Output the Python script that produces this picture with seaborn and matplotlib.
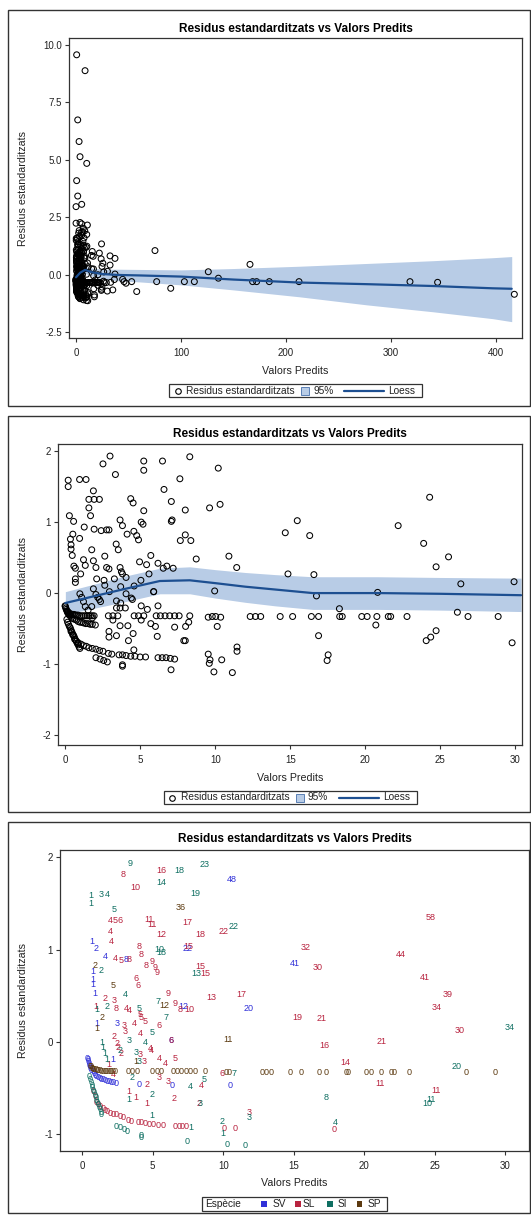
import numpy as np
import pandas as pd
import seaborn as sns
import matplotlib.pyplot as plt
from matplotlib.lines import Line2D
from matplotlib.patches import Rectangle
from matplotlib.transforms import offset_copy

# --- values (predicted value, standardised residual, label) ---
sv_lab = ['1', '2', '4', '8', '1', '1', '1', '1', '12', '1', '3', '6', '1', '0', '0', '0', '22', '48', '41', '20',
          '0', '0', '0', '0', '0', '0', '0', '0', '0', '0', '0', '0', '0', '0', '0', '0', '0', '0', '0', '0', '0', '0']
sv_x = [0.27, 0.55, 1.26, 2.75, 0.34, 0.38, 0.38, 0.46, 6.77, 0.67, 2.09, 5.89, 1.76, 3.65, 6.01, 10.13, 7.07, 10.2, 14.67, 11.43,
        -0.02, 0.0, 0.03, 0.06, 0.10, 0.14, 0.19, 0.26, 0.34, 0.42, 0.50, 0.62, 0.74, 0.85, 0.97, 1.09, 1.21, 1.36, 1.52, 1.66, 1.80, 2.0]
sv_y = [1.09, 1.01, 0.93, 0.89, 0.76, 0.68, 0.62, 0.53, 0.38, 0.20, 0.20, 0.02, -0.19, -0.46, -0.47, -0.47, 1.01, 1.76, 0.85, 0.36,
        -0.18, -0.19, -0.21, -0.23, -0.25, -0.27, -0.29, -0.31, -0.32, -0.34, -0.36, -0.37, -0.38, -0.40, -0.41, -0.41, -0.42, -0.43, -0.43, -0.44, -0.44, -0.45]

sl_lab = ['8', '16', '10', '4', '5', '6', '11', '11', '17', '4',
          '12', '18', '22', '4', '8', '15', '8', '4', '5', '8',
          '8', '9', '9', '9', '15', '15', '6', '6', '9', '13',
          '17', '2', '3', '9', '8', '10', '1', '8', '4', '4',
          '5', '5', '3', '3', '4', '5', '6', '4', '6', '2',
          '2', '2', '2', '1', '3', '4', '4', '3', '4', '4',
          '5', '3', '4', '2', '3', '4', '6', '1', '1', '1',
          '2', '2', '0', '0', '3', '0', '32', '30', '19', '21',
          '16', '14', '58', '44', '41', '39', '34', '30', '21', '11',
          '11',
          '0', '0', '0', '0', '0', '0', '0', '0', '0', '0', '0', '0', '0',
          '0', '0', '0', '0', '0', '0', '0', '0', '0', '0', '0', '0', '0']
sl_x = [2.51, 5.23, 3.34, 1.57, 1.92, 2.27, 4.36, 4.52, 7.07, 1.57,
        5.23, 8.0, 9.62, 1.68, 3.65, 7.12, 3.81, 1.92, 2.39, 2.91,
        4.12, 4.57, 4.76, 4.88, 8.0, 8.37, 3.39, 3.53, 5.70, 8.73,
        10.91, 1.21, 1.87, 6.18, 6.53, 7.19, 0.57, 2.04, 2.75, 2.91,
        3.74, 3.81, 2.58, 2.63, 3.27, 4.05, 5.04, 3.69, 5.89, 1.87,
        2.04, 2.16, 2.35, 1.52, 3.69, 4.40, 4.47, 4.0, 5.06, 5.47,
        6.18, 5.06, 1.80, 4.17, 5.70, 8.02, 9.53, 2.91, 3.41, 4.21,
        6.13, 7.9, 9.65, 10.43, 11.45, 17.46, 15.47, 16.30, 14.85, 16.58,
        16.75, 18.28, 24.30, 22.2, 23.9, 25.56, 24.73, 26.38, 20.83, 20.71,
        24.73,
        0.38, 0.50, 0.62, 0.74, 0.86, 1.05, 1.21, 1.40, 1.57, 1.80, 2.04, 2.28, 2.51,
        2.87, 3.10, 3.58, 3.81, 4.05, 4.36, 4.64, 4.99, 5.35, 6.18, 6.46, 6.72, 7.0]
sl_y = [1.82, 1.86, 1.67, 1.32, 1.32, 1.32, 1.33, 1.27, 1.29, 1.20,
        1.16, 1.17, 1.20, 1.09, 1.03, 1.03, 0.95, 0.90, 0.88, 0.89,
        0.83, 0.87, 0.81, 0.75, 0.82, 0.74, 0.69, 0.61, 0.53, 0.48,
        0.52, 0.47, 0.455, 0.42, 0.35, 0.35, 0.38, 0.36, 0.36, 0.34,
        0.30, 0.27, 0.18, 0.11, 0.20, 0.22, 0.18, 0.09, 0.02, 0.06,
        -0.02, -0.06, -0.12, -0.24, -0.14, -0.07, -0.09, -0.21, -0.18, -0.23,
        -0.18, -0.38, -0.35, -0.46, -0.43, -0.47, -0.34, -0.54, -0.60, -0.67,
        -0.61, -0.67, -0.94, -0.94, -0.76, -0.95, 1.02, 0.81, 0.27, 0.26,
        -0.04, -0.22, 1.35, 0.95, 0.70, 0.51, 0.37, 0.13, 0.01, -0.45,
        -0.53,
        -0.54, -0.59, -0.65, -0.68, -0.70, -0.72, -0.74, -0.75, -0.77, -0.78, -0.79, -0.81, -0.82,
        -0.85, -0.86, -0.87, -0.87, -0.88, -0.89, -0.89, -0.90, -0.90, -0.91, -0.91, -0.91, -0.92]

si_lab = ['9', '18', '23', '14', '1', '1', '3', '4', '19', '5',
          '10', '18', '2', '13', '4', '7', '1', '2', '5', '7',
          '5', '3', '2', '1', '1', '1', '1', '4', '3', '3',
          '2', '4', '5', '7', '1', '2', '3', '1', '1', '2',
          '1', '0', '0', '0', '0', '0', '0', '0', '0', '0',
          '3', '8', '4', '22', '34', '20', '11', '10',
          '0', '0', '0', '0', '0', '0', '0', '0', '0', '0', '0', '0', '0', '0', '0', '0']
si_x = [2.98, 6.48, 8.30, 5.23, 0.19, 0.19, 0.95, 1.38, 7.64, 1.87,
        5.06, 5.18, 0.95, 7.67, 2.63, 4.95, 0.67, 1.33, 3.65, 5.58,
        4.59, 2.94, 2.27, 0.97, 1.09, 1.21, 1.33, 4.05, 3.41, 3.65,
        3.17, 7.29, 8.23, 10.36, 2.91, 4.52, 8.0, 4.57, 7.29, 9.53,
        9.6, 7.05, 9.91, 3.81, 3.81, 2.04, 2.32, 2.56, 2.8, 11.14,
        11.45, 16.89, 17.53, 10.32, 29.93, 26.15, 24.37, 24.07,
        0.10, 0.15, 0.21, 0.27, 0.33, 0.38, 0.44, 0.50, 0.56, 0.62, 0.68, 0.74, 0.80, 0.86, 0.92, 0.97]
si_y = [1.93, 1.86, 1.92, 1.73, 1.59, 1.50, 1.60, 1.60, 1.61, 1.44,
        1.00, 0.97, 0.77, 0.74, 0.52, 0.44, 0.35, 0.39, 0.36, 0.27,
        0.10, 0.02, -0.09, -0.01, -0.06, -0.12, -0.19, -0.01, -0.11, -0.21,
        -0.38, -0.48, -0.41, -0.34, -0.62, -0.57, -0.67, -0.80, -0.93, -0.86,
        -0.99, -1.08, -1.11, -1.01, -1.03, -0.91, -0.93, -0.95, -0.97, -1.12,
        -0.82, -0.60, -0.87, 1.25, 0.16, -0.27, -0.62, -0.67,
        -0.37, -0.41, -0.44, -0.47, -0.49, -0.52, -0.55, -0.58, -0.60, -0.63, -0.66, -0.68, -0.71, -0.73, -0.76, -0.78]

sp_lab = ['36', '2', '5', '12', '2', '1', '11', '1',
          '0', '0', '0', '0', '0', '0', '0', '0', '0', '0', '0', '0', '0', '0', '0', '0', '0', '0', '0',
          '0', '0', '0', '0', '0', '0', '0', '0', '0', '0', '0', '0', '0',
          '0', '0', '0', '0', '0', '0', '0', '0', '0', '0', '0', '0', '0', '0', '0', '0', '0', '0', '0']
sp_x = [6.58, 0.50, 1.76, 5.42, 1.02, 0.67, 9.96, 3.41,
        0.15, 0.20, 0.27, 0.33, 0.38, 0.47, 0.57, 0.66, 0.74, 0.85, 0.97, 1.09, 1.21, 1.33, 1.45, 1.57, 1.68, 1.80, 1.92,
        2.87, 3.17, 3.50, 4.59, 4.88, 5.23, 6.06, 6.34, 6.65, 6.96, 7.29, 7.59, 8.30,
        9.80, 10.03, 12.33, 12.68, 13.03, 14.33, 15.16, 16.41, 16.89, 18.30, 18.47, 19.77, 20.13, 20.78, 21.54, 21.70, 22.79, 26.86, 28.87]
sp_y = [1.46, 0.83, 0.61, 0.40, 0.27, 0.15, 0.03, -0.21,
        -0.26, -0.27, -0.29, -0.29, -0.30, -0.30, -0.30, -0.31, -0.31, -0.31, -0.32, -0.32, -0.32, -0.32, -0.32, -0.32, -0.32, -0.32, -0.32,
        -0.32, -0.32, -0.32, -0.32, -0.32, -0.32, -0.32, -0.32, -0.32, -0.32, -0.32, -0.32, -0.32,
        -0.33, -0.33, -0.33, -0.33, -0.33, -0.33, -0.33, -0.33, -0.33, -0.33, -0.33, -0.33, -0.33, -0.33, -0.33, -0.33, -0.33, -0.33, -0.33]

# points only visible in the top two panels
p2_extra_x = [29.8]
p2_extra_y = [-0.70]
p1_extra_x = [0.6, 8.6, 1.6, 2.9, 3.8, 10.2, 0.6, 1.6, 0.0, 5.4, 0.0, 3.8, 5.4, 10.8, 7.0,
              32.4, 37.1, 37.1, 32.4, 33.0, 35.0, 36.5, 44.4, 45.7, 47.6, 53.0, 57.8, 75.2, 76.8, 90.2,
              103.2, 112.7, 126.0, 135.6, 165.7, 168.2, 172.0, 184.1, 212.4, 318.1, 344.4, 417.5]
p1_extra_y = [9.57, 8.88, 6.74, 5.80, 5.14, 4.85, 4.10, 3.43, 2.97, 3.07, 2.25, 2.28, 2.22, 2.17, 2.03,
              0.83, 0.72, 0.04, 0.43, -0.32, -0.65, -0.20, -0.19, -0.29, -0.36, -0.29, -0.72, 1.06, -0.29, -0.58,
              -0.29, -0.29, 0.14, -0.14, 0.46, -0.29, -0.29, -0.29, -0.29, -0.29, -0.32, -0.84]

# loess fit and 95% band
lo1_x = [0, 4, 8.6, 15, 25, 40, 60, 100, 150, 213, 277, 340, 397, 415]
lo1_y = [-0.10, 0.10, 0.22, 0.12, 0.04, 0.0, -0.02, -0.07, -0.20, -0.33, -0.40, -0.48, -0.58, -0.60]
lo1_up = [0.05, 0.25, 0.37, 0.30, 0.25, 0.25, 0.24, 0.22, 0.28, 0.38, 0.50, 0.62, 0.75, 0.80]
lo1_lo = [-0.25, -0.05, 0.07, -0.05, -0.17, -0.25, -0.30, -0.43, -0.65, -0.95, -1.30, -1.60, -1.90, -2.03]

lo2_x = [0, 2, 4, 6.3, 8.3, 10, 12, 14, 16.5, 20.9, 25, 30.4]
lo2_y = [-0.14, -0.04, 0.06, 0.17, 0.18, 0.14, 0.09, 0.05, 0.0, 0.0, -0.01, -0.03]
lo2_up = [0.02, 0.13, 0.24, 0.35, 0.37, 0.33, 0.29, 0.26, 0.23, 0.23, 0.22, 0.21]
lo2_lo = [-0.30, -0.21, -0.12, -0.01, -0.01, -0.07, -0.13, -0.18, -0.23, -0.23, -0.24, -0.26]

species = ['SV', 'SL', 'SI', 'SP']
sp_colors = {'SV': '#3030d8', 'SL': '#b8233f', 'SI': '#0f6f62', 'SP': '#5c3a10'}
BAND = '#b8cce6'
LINE = '#1d4f91'
TXT = '#222222'
TITLE = 'Residus estandarditzats vs Valors Predits'

df = pd.concat([
    pd.DataFrame({'pred': sv_x, 'resid': sv_y, 'lab': sv_lab, 'esp': 'SV'}),
    pd.DataFrame({'pred': sl_x, 'resid': sl_y, 'lab': sl_lab, 'esp': 'SL'}),
    pd.DataFrame({'pred': si_x, 'resid': si_y, 'lab': si_lab, 'esp': 'SI'}),
    pd.DataFrame({'pred': sp_x, 'resid': sp_y, 'lab': sp_lab, 'esp': 'SP'}),
], ignore_index=True)
df2 = pd.concat([df[['pred', 'resid']], pd.DataFrame({'pred': p2_extra_x, 'resid': p2_extra_y})], ignore_index=True)
df1 = pd.concat([df2, pd.DataFrame({'pred': p1_extra_x, 'resid': p1_extra_y})], ignore_index=True)

sns.set_theme(style="white")
plt.rcParams['font.family'] = ['Liberation Sans', 'DejaVu Sans']

W, H = 531, 1216
fig = plt.figure(figsize=(W / 100, H / 100), dpi=100)


def fx(px):
    return px / W


def fy(py):
    return 1 - py / H


def add_ax(l, t, r, b):
    return fig.add_axes([fx(l), fy(b), (r - l) / W, (b - t) / H])


def box(l, t, r, b, lw=1.0):
    fig.add_artist(Rectangle((fx(l), fy(b)), (r - l) / W, (b - t) / H, transform=fig.transFigure,
                             fill=False, ec='#333333', lw=lw))


def style(ax, xlim, ylim, xticks, yticks, yfmt):
    ax.set_xlim(xlim)
    ax.set_ylim(ylim)
    ax.set_xticks(xticks)
    ax.set_xticklabels([str(v) for v in xticks])
    ax.set_yticks(yticks)
    ax.set_yticklabels([yfmt.format(v) for v in yticks])
    ax.set_xlabel('')
    ax.set_ylabel('')
    for s in ax.spines.values():
        s.set_color('#333333')
        s.set_linewidth(0.9)
    ax.tick_params(axis='both', direction='out', length=3, width=0.8, color='#333333',
                   labelsize=7, labelcolor=TXT, bottom=True, left=True)
    ax.tick_params(axis='x', pad=4)
    ax.tick_params(axis='y', pad=2)


def labels(l, t, r, b, title_y, xlab_y):
    cx = (l + r) / 2
    fig.text(fx(cx), fy(title_y), TITLE, ha='center', va='center', fontsize=8.5, fontweight='bold', color='black')
    fig.text(fx(cx), fy(xlab_y), 'Valors Predits', ha='center', va='center', fontsize=7.7, color=TXT)
    fig.text(fx(23), fy((t + b) / 2), 'Residus estandarditzats', ha='center', va='center', rotation=90,
             fontsize=7.7, color=TXT)


def fit_legend(l, cy):
    box(l, cy - 6.7, l + 253, cy + 6.7, lw=0.9)
    fig.add_artist(Line2D([fx(l + 8.5)], [fy(cy)], transform=fig.transFigure, marker='o', ms=4,
                          mfc='none', mec='black', mew=0.8, ls=''))
    fig.text(fx(l + 17), fy(cy), 'Residus estandarditzats', ha='left', va='center', fontsize=7.3, color=TXT)
    fig.add_artist(Rectangle((fx(l + 132), fy(cy + 4)), 8 / W, 8 / H, transform=fig.transFigure,
                             fc=BAND, ec='#5a7fb5', lw=0.7))
    fig.text(fx(l + 144), fy(cy), '95%', ha='left', va='center', fontsize=7.3, color=TXT)
    fig.add_artist(Line2D([fx(l + 175), fx(l + 215)], [fy(cy), fy(cy)], transform=fig.transFigure,
                          color=LINE, lw=1.6))
    fig.text(fx(l + 219), fy(cy), 'Loess', ha='left', va='center', fontsize=7.3, color=TXT)


# ---------------- panel 1 ----------------
box(8, 10, 530, 406)
ax1 = add_ax(69, 38, 522, 338)
ax1.fill_between(lo1_x, lo1_lo, lo1_up, color=BAND, lw=0, zorder=1)
sns.scatterplot(data=df1, x='pred', y='resid', ax=ax1, s=18, facecolor='none', edgecolor='black',
                linewidth=0.75, zorder=2)
sns.lineplot(x=lo1_x, y=lo1_y, ax=ax1, color=LINE, lw=1.6, zorder=3)
style(ax1, (-6.7, 424.8), (-2.74, 10.3), [0, 100, 200, 300, 400], [-2.5, 0.0, 2.5, 5.0, 7.5, 10.0], '{:.1f}')
labels(69, 38, 522, 338, 28.5, 371.5)
fit_legend(169, 390.7)

# ---------------- panel 2 ----------------
box(8, 416, 530, 812)
ax2 = add_ax(58, 444, 522, 745)
ax2.fill_between(lo2_x, lo2_lo, lo2_up, color=BAND, lw=0, zorder=1)
sns.scatterplot(data=df2, x='pred', y='resid', ax=ax2, s=18, facecolor='none', edgecolor='black',
                linewidth=0.75, zorder=2)
sns.lineplot(x=lo2_x, y=lo2_y, ax=ax2, color=LINE, lw=1.6, zorder=3)
style(ax2, (-0.49, 30.46), (-2.14, 2.10), [0, 5, 10, 15, 20, 25, 30], [-2, -1, 0, 1, 2], '{:d}')
labels(58, 444, 522, 745, 434, 778)
fit_legend(163.7, 797.5)

# ---------------- panel 3 ----------------
box(8, 822, 530, 1213)
ax3 = add_ax(60, 850, 529, 1151)
style(ax3, (-1.58, 31.7), (-1.18, 2.08), [0, 5, 10, 15, 20, 25, 30], [-1, 0, 1, 2], '{:d}')
shifted = offset_copy(ax3.transData, fig=fig, x=5.6, y=0, units='dots')
for _, row in df.iterrows():
    ax3.text(row['pred'], row['resid'], row['lab'], transform=shifted, ha='center', va='center',
             fontsize=6.5, color=sp_colors[row['esp']], clip_on=True)
labels(60, 850, 529, 1151, 839.3, 1183)

# species legend
lg_l, lg_cy = 201.7, 1203.7
box(lg_l, lg_cy - 7, lg_l + 185, lg_cy + 7, lw=0.9)
fig.text(fx(lg_l + 3.3), fy(lg_cy), 'Espècie', ha='left', va='center', fontsize=7.3, color=TXT)
for esp, sq, tx in zip(species, [62.3, 96, 128, 157.8], [71, 101.3, 136.3, 166.3]):
    fig.add_artist(Rectangle((fx(lg_l + sq - 2.8), fy(lg_cy + 2.8)), 5.6 / W, 5.6 / H,
                             transform=fig.transFigure, fc=sp_colors[esp], ec='none'))
    fig.text(fx(lg_l + tx), fy(lg_cy), esp, ha='left', va='center', fontsize=7.3, color=TXT)

fig.savefig('out.png', dpi=100)
